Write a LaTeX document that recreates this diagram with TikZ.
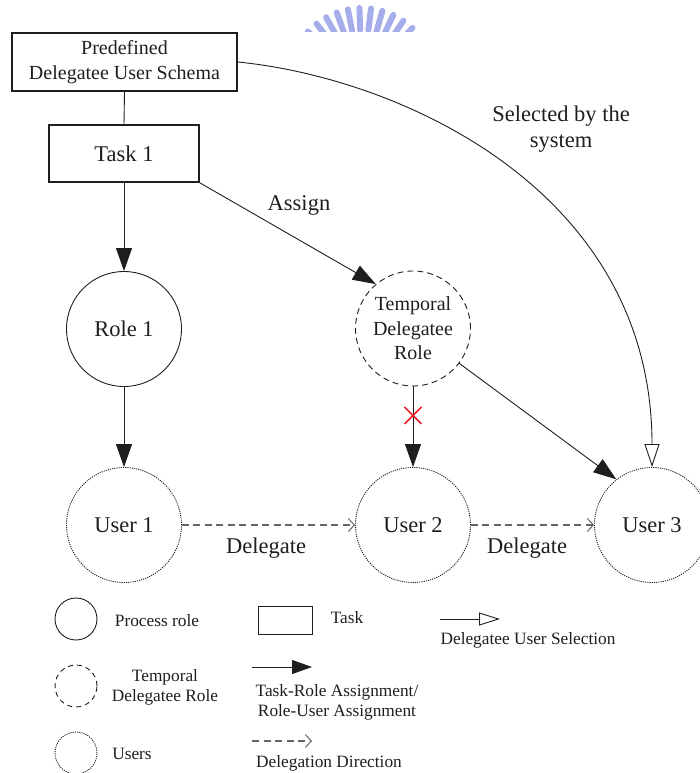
\documentclass[tikz,border=0pt]{standalone}
\usepackage{fontspec}
\setmainfont{Liberation Serif}
\usetikzlibrary{arrows.meta,shapes.geometric}

\definecolor{ink}{HTML}{1E1E1E}
\definecolor{crest}{RGB}{165,174,235}
\definecolor{crossred}{RGB}{235,30,40}

\begin{document}
\begin{tikzpicture}[x=1pt,y=-1pt,
  every node/.style={text=ink},
  big/.style={font=\fontsize{22.5}{26}\selectfont},
  mid/.style={font=\fontsize{20}{24.5}\selectfont},
  small/.style={font=\fontsize{17.3}{20}\selectfont},
  taskbox/.style={draw=ink, line width=1.6pt, inner sep=0pt, align=center},
  rolenode/.style={circle, draw=ink, line width=0.9pt, minimum size=115pt, inner sep=0pt, align=center},
  temprole/.style={rolenode, dash pattern=on 6pt off 4pt},
  usernode/.style={rolenode, line width=0.9pt, dash pattern=on 1.1pt off 1.1pt},
  legrole/.style={circle, draw=ink, line width=0.9pt, minimum size=42pt, inner sep=0pt},
  assignarrow/.style={draw=ink, line width=0.9pt, -{Triangle[length=23pt,width=16pt]}},
  assignlegend/.style={draw=ink, line width=0.9pt, -{Triangle[length=20pt,width=14pt]}},
  selectarrow/.style={draw=ink, line width=0.9pt, -{Triangle[open,length=23pt,width=15pt]}},
  selectlegend/.style={draw=ink, line width=0.9pt, -{Triangle[open,length=21pt,width=13pt]}},
  delegarrow/.style={draw=black!60, line width=1.1pt, dash pattern=on 7pt off 4.5pt,
                     -{Straight Barb[length=6pt,width=13pt,line width=1pt]}},
]
\useasboundingbox (0,0) rectangle (700,773);

% crest emblem along the top edge
\begin{scope}
  \clip (270,0) rectangle (440,32);
  \foreach \a in {38,47,...,146}
    \draw[crest, line width=6pt, line cap=round] (362,82) ++(-\a:52) -- ++(-\a:22);
\end{scope}

% main nodes
\node[taskbox, mid, minimum width=225pt, minimum height=58pt] (pds) at (124.5,62)
  {Predefined\\Delegatee User Schema};
\node[taskbox, big, minimum width=150pt, minimum height=57pt] (task) at (124,153.5) {Task 1};
\node[rolenode, big] (role1) at (124,329) {Role 1};
\node[temprole, mid] (temp) at (413,328.5) {Temporal\\Delegatee\\Role};
\node[usernode, big] (user1) at (124,525) {User 1};
\node[usernode, big] (user2) at (413,525) {User 2};
\node[usernode, big] (user3) at (652,525) {User 3};

% labels
\node[big] (assignlbl) at (299,205) {Assign};
\node[big, align=center] (selectlbl) at (561,129) {Selected by the\\system};
\node[big] (deleg1) at (266,548) {Delegate};
\node[big] (deleg2) at (527,548) {Delegate};

% connectors
\draw[draw=ink, line width=0.9pt] (pds.south) -- (task.north);
\draw[assignarrow] (task) -- (role1);
\draw[assignarrow] (task.south east) -- (temp.130);
\draw[assignarrow] (role1) -- (user1);
\draw[assignarrow] (temp) -- coordinate[pos=0.36] (cut) (user2);
\draw[assignarrow] (temp.-37) -- (user3.128);
\draw[selectarrow] (pds.east) .. controls (400,78) and (652,190) .. (user3.north);
\draw[delegarrow] (user1) -- (user2);
\draw[delegarrow] (user2) -- (user3);

% blocked assignment mark
\draw[crossred, line width=1.6pt] (cut) ++(-8.5,-8.5) -- ++(17,17);
\draw[crossred, line width=1.6pt] (cut) ++(-8.5,8.5) -- ++(17,-17);

% legend
\node[legrole] (lgrole) at (76,619) {};
\node[legrole, dash pattern=on 5pt off 4pt] (lgtemp) at (76,686) {};
\node[legrole, dash pattern=on 1.1pt off 1.1pt] (lguser) at (76,753) {};
\node[small] (lgroletxt) at (157,621) {Process role};
\node[small, align=center] (lgtemptxt) at (165,687) {Temporal\\Delegatee Role};
\node[small] (lgusertxt) at (132,754) {Users};

\node[draw=ink, line width=0.9pt, minimum width=54pt, minimum height=28pt, inner sep=0pt] (lgtask) at (285,620) {};
\node[small] (lgtasktxt) at (347,618) {Task};

\coordinate (lga1) at (252,667);
\coordinate (lga2) at (312,667);
\draw[assignlegend] (lga1) -- (lga2);
\node[small, align=center] (lgassigntxt) at (337,702) {Task-Role Assignment/\\Role-User Assignment};

\coordinate (lgd1) at (252,741);
\coordinate (lgd2) at (312,741);
\draw[delegarrow] (lgd1) -- (lgd2);
\node[small] (lgdelegtxt) at (329,763) {Delegation Direction};

\coordinate (lgs1) at (440,619);
\coordinate (lgs2) at (500,619);
\draw[selectlegend] (lgs1) -- (lgs2);
\node[small] (lgselecttxt) at (528,640) {Delegatee User Selection};
\end{tikzpicture}
\end{document}
